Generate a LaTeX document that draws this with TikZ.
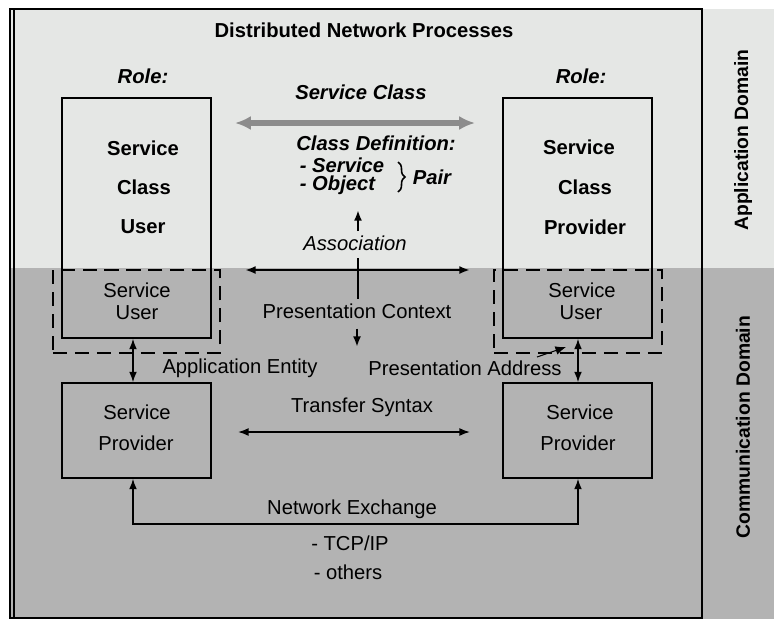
\documentclass[tikz,border=0pt]{standalone}
\usepackage{fontspec}
\setmainfont{Liberation Sans}
\usetikzlibrary{arrows.meta,decorations.pathreplacing}

\definecolor{appgray}{RGB}{229,231,229}
\definecolor{comgray}{RGB}{179,179,179}
\definecolor{classgray}{RGB}{140,140,140}

\tikzset{
  box/.style={draw, line width=0.8pt, inner sep=0pt},
  dashbox/.style={draw, line width=0.8pt, dash pattern=on 8pt off 4.5pt, inner sep=0pt},
  txt/.style={font=\fontsize{11.5}{13}\selectfont, inner sep=1pt},
  btxt/.style={txt, font=\fontsize{11.5}{13}\selectfont\bfseries},
  itxt/.style={txt, font=\fontsize{11.5}{13}\selectfont\itshape},
  bitxt/.style={txt, font=\fontsize{11.5}{13}\selectfont\bfseries\itshape},
  domtxt/.style={txt, font=\fontsize{11}{13}\selectfont\bfseries, rotate=90},
  link/.style={line width=0.9pt, >={Latex[length=6pt,width=4.5pt]}}
}

\begin{document}
\begin{tikzpicture}[x=0.02cm, y=-0.02cm]
    \useasboundingbox (0,0) rectangle (774,623);

    % Domains
    \fill[appgray] (10,9) rectangle (774,268);
    \fill[comgray] (10,268) rectangle (774,619);
    \draw[line width=1.2pt] (10,9) rectangle (702,618);
    \draw[line width=0.6pt] (14,9) -- (14,618);
    \node[domtxt] (appdom) at (743,140) {Application Domain};
    \node[domtxt] (comdom) at (743,427) {Communication Domain};

    \node[btxt] (title) at (364,30) {Distributed Network Processes};

    % Roles
    \node[bitxt] (roleL) at (143,76) {Role:};
    \node[bitxt] (roleR) at (581,76) {Role:};
    \node[box, minimum width=2.98cm, minimum height=4.8cm] (scu) at (136.5,218) {};
    \node[box, minimum width=2.98cm, minimum height=4.8cm] (scp) at (577.5,218) {};
    \node[btxt] (scuA) at (143,148) {Service};
    \node[btxt] (scuB) at (144,187) {Class};
    \node[btxt] (scuC) at (143,227) {User};
    \node[btxt] (scpA) at (579,147) {Service};
    \node[btxt] (scpB) at (585,187) {Class};
    \node[btxt] (scpC) at (585,227) {Provider};

    % Application entities
    \node[dashbox, minimum width=3.34cm, minimum height=1.66cm] (aeL) at (136.5,311.5) {};
    \node[dashbox, minimum width=3.36cm, minimum height=1.66cm] (aeR) at (578,311.5) {};
    \node[txt] (suL) at (137,290) {Service};
    \node[txt] at (137,313) {User};
    \node[txt] (suR) at (582,290) {Service};
    \node[txt] at (581,313) {User};
    \node[box, minimum width=2.98cm, minimum height=1.9cm] (spL) at (136.5,430.5) {};
    \node[box, minimum width=2.98cm, minimum height=1.9cm] (spR) at (577.5,430.5) {};
    \node[txt] at (137,412) {Service};
    \node[txt] at (136,443) {Provider};
    \node[txt] at (580,412) {Service};
    \node[txt] at (578,443) {Provider};

    % Service class
    \node[bitxt] (scls) at (361,92) {Service Class};
    \coordinate (sclsL) at (235,123);
    \coordinate (sclsR) at (475,123);
    \draw[<->, classgray, line width=3pt, >={Latex[length=9pt,width=8pt]}] (sclsL) -- (sclsR);
    \node[bitxt] (cdef) at (376,143) {Class Definition:};
    \node[bitxt, align=left, font=\fontsize{11.5}{10.5}\selectfont\bfseries\itshape] (cpair) at (342,176.5) {- Service\\- Object};
    \draw[line width=0.9pt, decorate, decoration={brace, amplitude=4pt}] (398,162) -- (398,192);
    \node[bitxt] (pair) at (432,177) {Pair};

    % Association
    \node[itxt] (assoc) at (355,243) {Association};
    \coordinate (assocUp) at (358,210);
    \coordinate (assocLo) at (358,231);
    \draw[->, link, line width=1.3pt] (assocLo) -- (assocUp);
    \coordinate (assocL) at (245,270);
    \coordinate (assocR) at (470,270);
    \draw[<->, link, line width=1.5pt] (assocL) -- (assocR);
    \draw[line width=1.5pt] (358,258) -- (358,299);
    \node[txt] (pctx) at (357,311) {Presentation Context};
    \coordinate (pctxLo) at (357,347);
    \draw[->, link, line width=1.3pt] ([yshift=-1.6mm]pctx.south) -- (pctxLo);

    % Entities and addresses
    \draw[<->, link] (scu.south -| 133,0) -- (spL.north -| 133,0);
    \draw[<->, link] (scp.south -| 578,0) -- (spR.north -| 578,0);
    \node[txt] (aent) at (240,368) {Application Entity};
    \node[txt] (paddr) at (465,368) {Presentation Address};
    \coordinate (paddrTip) at (566,347);
    \draw[->, line width=0.6pt, >={Latex[length=6pt,width=5pt]}] (537,357) -- (paddrTip);

    % Transfer and network
    \node[txt] (tsyn) at (362,407) {Transfer Syntax};
    \coordinate (tsynL) at (238,432);
    \coordinate (tsynR) at (470,432);
    \draw[<->, link] (tsynL) -- (tsynR);
    \draw[<->, link] (spL.south -| 133,0) -- (133,524) -- (578,524) -- (spR.south -| 578,0);
    \node[txt] (netx) at (352,509) {Network Exchange};
    \node[txt] (tcp) at (350,543) {- TCP/IP};
    \node[txt] (oth) at (348,572) {- others};
\end{tikzpicture}
\end{document}
